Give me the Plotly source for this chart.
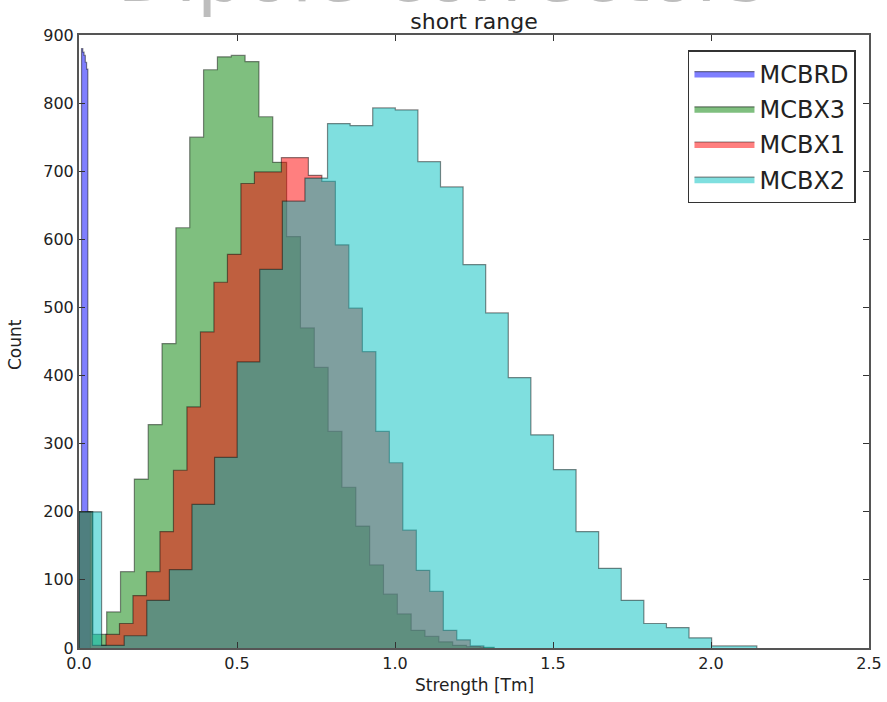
import plotly.graph_objects as go

# ---- data ----
series_names = ["MCBRD", "MCBX3", "MCBX1", "MCBX2"]
series_fill = ["rgba(0,0,255,0.5)", "rgba(0,128,0,0.5)",
               "rgba(255,0,0,0.5)", "rgba(0,191,191,0.5)"]

# MCBRD: very narrow spike near zero
mcbrd_start = 0.0
mcbrd_width = 0.004
mcbrd_counts = [200, 200, 880, 875, 870, 860, 850, 200, 200]

# MCBX3 (30 bins)
mcbx3_start = 0.0
mcbx3_width = 0.0438
mcbx3_counts = [200, 20, 53, 112, 248, 328, 447, 617, 750, 849,
                868, 870, 861, 780, 713, 604, 470, 412, 318, 236,
                179, 122, 79, 50, 26, 17, 9, 4, 2, 1]

# MCBX1 (30 bins)
mcbx1_start = 0.0
mcbx1_width = 0.0427
mcbx1_counts = [200, 4, 20, 36, 77, 112, 171, 261, 354, 464,
                537, 578, 682, 699, 699, 720, 720, 694, 685, 592,
                499, 435, 318, 272, 173, 114, 83, 26, 12, 3]

# MCBX2 (30 bins)
mcbx2_start = 0.0
mcbx2_width = 0.0715
mcbx2_counts = [200, 4, 18, 70, 115, 211, 280, 420, 556, 656,
                690, 770, 767, 793, 790, 714, 677, 563, 492, 397,
                313, 262, 171, 117, 70, 36, 30, 15, 3, 3]

x_ticks = [0.0, 0.5, 1.0, 1.5, 2.0, 2.5]
x_tick_labels = ["0.0", "0.5", "1.0", "1.5", "2.0", "2.5"]
y_ticks = [0, 100, 200, 300, 400, 500, 600, 700, 800, 900]

hists = [
    (mcbrd_start, mcbrd_width, mcbrd_counts),
    (mcbx3_start, mcbx3_width, mcbx3_counts),
    (mcbx1_start, mcbx1_width, mcbx1_counts),
    (mcbx2_start, mcbx2_width, mcbx2_counts),
]


def step_outline(start, width, counts):
    edges = [start + width * k for k in range(len(counts) + 1)]
    xs = [edges[0]] + edges[:-1] + [edges[-1], edges[-1]]
    ys = [0] + list(counts) + [counts[-1], 0]
    return xs, ys


fig = go.Figure()
for name, fc, (s, w, c) in zip(series_names, series_fill, hists):
    xs, ys = step_outline(s, w, c)
    fig.add_trace(go.Scatter(
        x=xs, y=ys, name=name, mode="lines",
        line=dict(shape="hv", color="rgba(0,0,0,0.45)", width=1.2),
        fill="tozeroy", fillcolor=fc,
        legendgroup=name, hoverinfo="skip",
    ))

tick_font = dict(family="DejaVu Sans", size=16, color="#222")
label_font = dict(family="DejaVu Sans", size=17, color="#222")

fig.update_layout(
    width=887, height=702,
    margin=dict(l=79, r=18, t=35, b=54),
    paper_bgcolor="white", plot_bgcolor="white",
    font=dict(family="DejaVu Sans", color="black"),
    showlegend=True,
    legend=dict(
        x=0.9835, y=0.9755, xanchor="right", yanchor="top",
        bgcolor="white", bordercolor="#333", borderwidth=1.5,
        font=dict(family="DejaVu Sans", size=24, color="#222"),
        tracegroupgap=1, itemwidth=60,
    ),
    title=dict(text="short range", xref="paper", x=0.5, xanchor="center",
               y=1 - 21 / 702, yanchor="middle",
               font=dict(family="DejaVu Sans", size=22, color="#222")),
    xaxis=dict(
        range=[0, 2.5], tickvals=x_ticks, ticktext=x_tick_labels,
        ticks="inside", ticklen=6, tickcolor="#333", mirror="ticks",
        showline=True, linecolor="#555", linewidth=2,
        showgrid=False, zeroline=False, tickfont=tick_font,
        automargin=False,
    ),
    yaxis=dict(
        range=[0, 900], tickvals=y_ticks,
        ticks="inside", ticklen=6, tickcolor="#333", mirror="ticks",
        showline=True, linecolor="#555", linewidth=2,
        showgrid=False, zeroline=False, tickfont=tick_font,
        automargin=False,
    ),
)

# axis titles
fig.add_annotation(text="Strength [Tm]", xref="paper", yref="paper",
                   x=0.5, y=(648 - 685) / 613, xanchor="center",
                   yanchor="middle", showarrow=False, font=label_font)
fig.add_annotation(text="Count", xref="paper", yref="paper",
                   x=(15 - 79) / 790, y=(648 - 345) / 613, xanchor="center",
                   yanchor="middle", textangle=-90, showarrow=False,
                   font=label_font)

# large heading, mostly cut off at the top edge of the picture
fig.add_annotation(
    text="Dipole correctors", xref="paper", yref="paper",
    x=0.46, y=(648 - 21) / 613, xanchor="center", yanchor="bottom",
    showarrow=False,
    font=dict(family="DejaVu Sans", size=76, color="#bdbdbd"),
)

fig.write_html("out.html",
               config={"displayModeBar": False},
               post_script="document.body.style.margin='0';")
